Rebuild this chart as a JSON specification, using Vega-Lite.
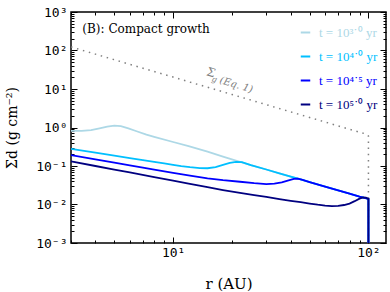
{
  "$schema": "https://vega.github.io/schema/vega-lite/v6.json",
  "width": 315,
  "height": 231,
  "autosize": {"type": "none"},
  "padding": {"left": 71, "top": 12, "right": 4, "bottom": 49},
  "config": {
    "view": {"stroke": "black", "strokeWidth": 1.5},
    "axis": {"domain": false, "grid": false, "tickColor": "black", "tickWidth": 1, "labelColor": "black", "labelFont": "DejaVu Sans Mono", "labelFontSize": 13, "titleFont": "DejaVu Serif", "titleFontWeight": "normal", "titleColor": "black", "titleFontSize": 14}
  },
  "datasets": {
    "gas": [
      {"r": 3, "s": 124, "i": 0}, {"r": 4, "s": 80.5, "i": 1}, {"r": 5, "s": 57.6, "i": 2}, {"r": 6, "s": 43.8, "i": 3},
      {"r": 8, "s": 28.5, "i": 4}, {"r": 10, "s": 20.4, "i": 5}, {"r": 13, "s": 13.7, "i": 6}, {"r": 16, "s": 10.1, "i": 7},
      {"r": 20, "s": 7.2, "i": 8}, {"r": 25, "s": 5.15, "i": 9}, {"r": 30, "s": 3.92, "i": 10}, {"r": 40, "s": 2.55, "i": 11},
      {"r": 50, "s": 1.82, "i": 12}, {"r": 60, "s": 1.39, "i": 13}, {"r": 70, "s": 1.1, "i": 14}, {"r": 80, "s": 0.9, "i": 15},
      {"r": 90, "s": 0.755, "i": 16}, {"r": 98, "s": 0.67, "i": 17}, {"r": 100, "s": 0.6, "i": 18}, {"r": 100, "s": 0.0001, "i": 19}
    ],
    "dust": [
      {"t": "t = 10³˙⁰ yr", "r": 3.0, "s": 0.82, "i": 0}, {"t": "t = 10³˙⁰ yr", "r": 3.4, "s": 0.82, "i": 1}, {"t": "t = 10³˙⁰ yr", "r": 3.8, "s": 0.86, "i": 2},
      {"t": "t = 10³˙⁰ yr", "r": 4.2, "s": 0.95, "i": 3}, {"t": "t = 10³˙⁰ yr", "r": 4.6, "s": 1.05, "i": 4}, {"t": "t = 10³˙⁰ yr", "r": 5.0, "s": 1.12, "i": 5},
      {"t": "t = 10³˙⁰ yr", "r": 5.4, "s": 1.08, "i": 6}, {"t": "t = 10³˙⁰ yr", "r": 5.9, "s": 0.95, "i": 7}, {"t": "t = 10³˙⁰ yr", "r": 6.5, "s": 0.8, "i": 8},
      {"t": "t = 10³˙⁰ yr", "r": 7.3, "s": 0.65, "i": 9}, {"t": "t = 10³˙⁰ yr", "r": 8, "s": 0.57, "i": 10}, {"t": "t = 10³˙⁰ yr", "r": 10, "s": 0.42, "i": 11},
      {"t": "t = 10³˙⁰ yr", "r": 12, "s": 0.33, "i": 12}, {"t": "t = 10³˙⁰ yr", "r": 15, "s": 0.235, "i": 13}, {"t": "t = 10³˙⁰ yr", "r": 18, "s": 0.175, "i": 14},
      {"t": "t = 10³˙⁰ yr", "r": 22, "s": 0.128, "i": 15}, {"t": "t = 10³˙⁰ yr", "r": 25, "s": 0.106, "i": 16}, {"t": "t = 10³˙⁰ yr", "r": 30, "s": 0.0811, "i": 17},
      {"t": "t = 10³˙⁰ yr", "r": 35, "s": 0.0647, "i": 18}, {"t": "t = 10³˙⁰ yr", "r": 40, "s": 0.0531, "i": 19}, {"t": "t = 10³˙⁰ yr", "r": 45, "s": 0.0447, "i": 20},
      {"t": "t = 10³˙⁰ yr", "r": 50, "s": 0.0383, "i": 21}, {"t": "t = 10³˙⁰ yr", "r": 60, "s": 0.0293, "i": 22}, {"t": "t = 10³˙⁰ yr", "r": 70, "s": 0.0234, "i": 23},
      {"t": "t = 10³˙⁰ yr", "r": 80, "s": 0.0192, "i": 24}, {"t": "t = 10³˙⁰ yr", "r": 90, "s": 0.0161, "i": 25}, {"t": "t = 10³˙⁰ yr", "r": 100, "s": 0.014, "i": 26},
      {"t": "t = 10³˙⁰ yr", "r": 100, "s": 0.0001, "i": 27},

      {"t": "t = 10⁴˙⁰ yr", "r": 3, "s": 0.28, "i": 30}, {"t": "t = 10⁴˙⁰ yr", "r": 4, "s": 0.222, "i": 31}, {"t": "t = 10⁴˙⁰ yr", "r": 5, "s": 0.186, "i": 32},
      {"t": "t = 10⁴˙⁰ yr", "r": 6, "s": 0.161, "i": 33}, {"t": "t = 10⁴˙⁰ yr", "r": 7, "s": 0.143, "i": 34}, {"t": "t = 10⁴˙⁰ yr", "r": 8, "s": 0.128, "i": 35},
      {"t": "t = 10⁴˙⁰ yr", "r": 9, "s": 0.117, "i": 36}, {"t": "t = 10⁴˙⁰ yr", "r": 10, "s": 0.107, "i": 37}, {"t": "t = 10⁴˙⁰ yr", "r": 11, "s": 0.099, "i": 38},
      {"t": "t = 10⁴˙⁰ yr", "r": 12.2, "s": 0.093, "i": 39}, {"t": "t = 10⁴˙⁰ yr", "r": 13.7, "s": 0.088, "i": 40}, {"t": "t = 10⁴˙⁰ yr", "r": 15, "s": 0.0875, "i": 41},
      {"t": "t = 10⁴˙⁰ yr", "r": 16.5, "s": 0.093, "i": 42}, {"t": "t = 10⁴˙⁰ yr", "r": 18, "s": 0.107, "i": 43}, {"t": "t = 10⁴˙⁰ yr", "r": 19.5, "s": 0.12, "i": 44},
      {"t": "t = 10⁴˙⁰ yr", "r": 21, "s": 0.128, "i": 45}, {"t": "t = 10⁴˙⁰ yr", "r": 22.5, "s": 0.126, "i": 46}, {"t": "t = 10⁴˙⁰ yr", "r": 25, "s": 0.106, "i": 47},
      {"t": "t = 10⁴˙⁰ yr", "r": 30, "s": 0.0811, "i": 48}, {"t": "t = 10⁴˙⁰ yr", "r": 35, "s": 0.0647, "i": 49}, {"t": "t = 10⁴˙⁰ yr", "r": 40, "s": 0.0531, "i": 50},
      {"t": "t = 10⁴˙⁰ yr", "r": 45, "s": 0.0447, "i": 51}, {"t": "t = 10⁴˙⁰ yr", "r": 50, "s": 0.0383, "i": 52}, {"t": "t = 10⁴˙⁰ yr", "r": 60, "s": 0.0293, "i": 53},
      {"t": "t = 10⁴˙⁰ yr", "r": 70, "s": 0.0234, "i": 54}, {"t": "t = 10⁴˙⁰ yr", "r": 80, "s": 0.0192, "i": 55}, {"t": "t = 10⁴˙⁰ yr", "r": 90, "s": 0.0161, "i": 56},
      {"t": "t = 10⁴˙⁰ yr", "r": 100, "s": 0.014, "i": 57}, {"t": "t = 10⁴˙⁰ yr", "r": 100, "s": 0.0001, "i": 58},

      {"t": "t = 10⁴˙⁵ yr", "r": 3, "s": 0.192, "i": 60}, {"t": "t = 10⁴˙⁵ yr", "r": 4, "s": 0.149, "i": 61}, {"t": "t = 10⁴˙⁵ yr", "r": 5, "s": 0.122, "i": 62},
      {"t": "t = 10⁴˙⁵ yr", "r": 6, "s": 0.104, "i": 63}, {"t": "t = 10⁴˙⁵ yr", "r": 7, "s": 0.0905, "i": 64}, {"t": "t = 10⁴˙⁵ yr", "r": 8, "s": 0.0803, "i": 65},
      {"t": "t = 10⁴˙⁵ yr", "r": 10, "s": 0.0659, "i": 66}, {"t": "t = 10⁴˙⁵ yr", "r": 12.2, "s": 0.056, "i": 67}, {"t": "t = 10⁴˙⁵ yr", "r": 15, "s": 0.048, "i": 68},
      {"t": "t = 10⁴˙⁵ yr", "r": 18, "s": 0.043, "i": 69}, {"t": "t = 10⁴˙⁵ yr", "r": 22, "s": 0.039, "i": 70}, {"t": "t = 10⁴˙⁵ yr", "r": 26, "s": 0.0357, "i": 71},
      {"t": "t = 10⁴˙⁵ yr", "r": 30, "s": 0.034, "i": 72}, {"t": "t = 10⁴˙⁵ yr", "r": 33, "s": 0.0348, "i": 73}, {"t": "t = 10⁴˙⁵ yr", "r": 36, "s": 0.0375, "i": 74},
      {"t": "t = 10⁴˙⁵ yr", "r": 39, "s": 0.0425, "i": 75}, {"t": "t = 10⁴˙⁵ yr", "r": 41.5, "s": 0.0463, "i": 76}, {"t": "t = 10⁴˙⁵ yr", "r": 43.5, "s": 0.0472, "i": 77},
      {"t": "t = 10⁴˙⁵ yr", "r": 46, "s": 0.0435, "i": 78}, {"t": "t = 10⁴˙⁵ yr", "r": 50, "s": 0.0383, "i": 79}, {"t": "t = 10⁴˙⁵ yr", "r": 60, "s": 0.0293, "i": 80},
      {"t": "t = 10⁴˙⁵ yr", "r": 70, "s": 0.0234, "i": 81}, {"t": "t = 10⁴˙⁵ yr", "r": 80, "s": 0.0192, "i": 82}, {"t": "t = 10⁴˙⁵ yr", "r": 90, "s": 0.0161, "i": 83},
      {"t": "t = 10⁴˙⁵ yr", "r": 100, "s": 0.014, "i": 84}, {"t": "t = 10⁴˙⁵ yr", "r": 100, "s": 0.0001, "i": 85},

      {"t": "t = 10⁵˙⁰ yr", "r": 3, "s": 0.132, "i": 90}, {"t": "t = 10⁵˙⁰ yr", "r": 4, "s": 0.1, "i": 91}, {"t": "t = 10⁵˙⁰ yr", "r": 5, "s": 0.0808, "i": 92},
      {"t": "t = 10⁵˙⁰ yr", "r": 6, "s": 0.0679, "i": 93}, {"t": "t = 10⁵˙⁰ yr", "r": 8, "s": 0.0515, "i": 94}, {"t": "t = 10⁵˙⁰ yr", "r": 10, "s": 0.0416, "i": 95},
      {"t": "t = 10⁵˙⁰ yr", "r": 12, "s": 0.0348, "i": 96}, {"t": "t = 10⁵˙⁰ yr", "r": 15, "s": 0.0281, "i": 97}, {"t": "t = 10⁵˙⁰ yr", "r": 18, "s": 0.0237, "i": 98},
      {"t": "t = 10⁵˙⁰ yr", "r": 22, "s": 0.0201, "i": 99}, {"t": "t = 10⁵˙⁰ yr", "r": 26, "s": 0.0176, "i": 100}, {"t": "t = 10⁵˙⁰ yr", "r": 30, "s": 0.0157, "i": 101},
      {"t": "t = 10⁵˙⁰ yr", "r": 35, "s": 0.0138, "i": 102}, {"t": "t = 10⁵˙⁰ yr", "r": 40, "s": 0.0125, "i": 103}, {"t": "t = 10⁵˙⁰ yr", "r": 45, "s": 0.0115, "i": 104},
      {"t": "t = 10⁵˙⁰ yr", "r": 50, "s": 0.0106, "i": 105}, {"t": "t = 10⁵˙⁰ yr", "r": 55, "s": 0.0099, "i": 106}, {"t": "t = 10⁵˙⁰ yr", "r": 60, "s": 0.0094, "i": 107},
      {"t": "t = 10⁵˙⁰ yr", "r": 65, "s": 0.0091, "i": 108}, {"t": "t = 10⁵˙⁰ yr", "r": 70, "s": 0.0092, "i": 109}, {"t": "t = 10⁵˙⁰ yr", "r": 75, "s": 0.0097, "i": 110},
      {"t": "t = 10⁵˙⁰ yr", "r": 80, "s": 0.0106, "i": 111}, {"t": "t = 10⁵˙⁰ yr", "r": 85, "s": 0.0122, "i": 112}, {"t": "t = 10⁵˙⁰ yr", "r": 90, "s": 0.0142, "i": 113},
      {"t": "t = 10⁵˙⁰ yr", "r": 94, "s": 0.0153, "i": 114}, {"t": "t = 10⁵˙⁰ yr", "r": 97, "s": 0.015, "i": 115}, {"t": "t = 10⁵˙⁰ yr", "r": 100, "s": 0.014, "i": 116},
      {"t": "t = 10⁵˙⁰ yr", "r": 100, "s": 0.0001, "i": 117}
    ]
  },
  "layer": [
    {
      "data": {"name": "gas"},
      "mark": {"type": "line", "color": "#808080", "strokeWidth": 1.5, "strokeDash": [1.5, 4.7], "clip": true},
      "encoding": {
        "x": {"field": "r", "type": "quantitative", "scale": {"type": "log", "domain": [3, 123], "nice": false},
          "axis": {"orient": "bottom", "values": [10, 100], "tickSize": -6, "labelPadding": 9, "labelExpr": "'10' + ['⁰','¹','²','³'][round(log(datum.value)/LN10)]", "title": "r (AU)", "titlePadding": 17, "titleFontSize": 15}},
        "y": {"field": "s", "type": "quantitative", "scale": {"type": "log", "domain": [0.001, 1000], "nice": false},
          "axis": {"orient": "left", "values": [0.001, 0.01, 0.1, 1, 10, 100, 1000], "tickSize": -6, "labelPadding": 10, "labelExpr": "'10' + (datum.value < 0.99 ? '⁻' : '') + ['⁰','¹','²','³'][abs(round(log(datum.value)/LN10))]", "title": "Σd (g cm⁻²)", "titlePadding": 16}},
        "order": {"field": "i", "type": "quantitative"}
      }
    },
    {
      "data": {"name": "dust"},
      "mark": {"type": "line", "strokeWidth": 1.8, "clip": true},
      "encoding": {
        "x": {"field": "r", "type": "quantitative", "scale": {"type": "log", "domain": [3, 123], "nice": false},
          "axis": {"orient": "bottom", "values": [3, 4, 5, 6, 7, 8, 9, 20, 30, 40, 50, 60, 70, 80, 90], "tickSize": -3, "labels": false, "title": null}},
        "y": {"field": "s", "type": "quantitative", "scale": {"type": "log", "domain": [0.001, 1000], "nice": false},
          "axis": {"orient": "left", "values": [0.002, 0.003, 0.004, 0.005, 0.006, 0.007, 0.008, 0.009, 0.02, 0.03, 0.04, 0.05, 0.06, 0.07, 0.08, 0.09, 0.2, 0.3, 0.4, 0.5, 0.6, 0.7, 0.8, 0.9, 2, 3, 4, 5, 6, 7, 8, 9, 20, 30, 40, 50, 60, 70, 80, 90, 200, 300, 400, 500, 600, 700, 800, 900], "tickSize": -3, "labels": false, "title": null}},
        "color": {"field": "t", "type": "nominal",
          "scale": {"domain": ["t = 10³˙⁰ yr", "t = 10⁴˙⁰ yr", "t = 10⁴˙⁵ yr", "t = 10⁵˙⁰ yr"], "range": ["#add8e6", "#00bfff", "#0000ff", "#000080"]},
          "legend": {"title": null, "orient": "none", "legendX": 228, "legendY": 14, "padding": 0, "symbolType": "stroke", "symbolStrokeWidth": 2, "symbolSize": 90, "labelFont": "Liberation Serif", "labelFontSize": 13, "rowPadding": 10, "labelOffset": 7,
            "encode": {"labels": {"update": {"fill": {"scale": "color", "field": "value"}}}}}},
        "order": {"field": "i", "type": "quantitative"}
      }
    },
    {
      "data": {"values": [{}]},
      "mark": {"type": "text", "font": "DejaVu Serif", "fontSize": 12, "align": "left", "baseline": "middle", "color": "black", "text": "(B): Compact growth"},
      "encoding": {
        "x": {"datum": 3.43, "type": "quantitative", "scale": {"type": "log", "domain": [3, 123], "nice": false},
          "axis": {"orient": "top", "values": [10, 100], "tickSize": -6, "labels": false, "title": null}},
        "y": {"datum": 370, "type": "quantitative", "scale": {"type": "log", "domain": [0.001, 1000], "nice": false},
          "axis": {"orient": "right", "values": [0.001, 0.01, 0.1, 1, 10, 100, 1000], "tickSize": -6, "labels": false, "title": null}}
      }
    },
    {
      "data": {"values": [{}]},
      "mark": {"type": "text", "font": "DejaVu Serif", "fontSize": 12, "align": "left", "baseline": "middle", "color": "#808080", "angle": 17, "text": "Σ"},
      "encoding": {
        "x": {"datum": 14.9, "type": "quantitative", "scale": {"type": "log", "domain": [3, 123], "nice": false},
          "axis": {"orient": "top", "values": [3, 4, 5, 6, 7, 8, 9, 20, 30, 40, 50, 60, 70, 80, 90], "tickSize": -3, "labels": false, "title": null}},
        "y": {"datum": 29, "type": "quantitative", "scale": {"type": "log", "domain": [0.001, 1000], "nice": false},
          "axis": {"orient": "right", "values": [0.002, 0.003, 0.004, 0.005, 0.006, 0.007, 0.008, 0.009, 0.02, 0.03, 0.04, 0.05, 0.06, 0.07, 0.08, 0.09, 0.2, 0.3, 0.4, 0.5, 0.6, 0.7, 0.8, 0.9, 2, 3, 4, 5, 6, 7, 8, 9, 20, 30, 40, 50, 60, 70, 80, 90, 200, 300, 400, 500, 600, 700, 800, 900], "tickSize": -3, "labels": false, "title": null}}
      }
    },
    {
      "data": {"values": [{}]},
      "mark": {"type": "text", "font": "DejaVu Serif", "fontSize": 8, "fontStyle": "italic", "align": "left", "baseline": "middle", "color": "#808080", "angle": 17, "text": "g", "dx": 7, "dy": 6},
      "encoding": {
        "x": {"datum": 14.9, "type": "quantitative", "scale": {"type": "log", "domain": [3, 123], "nice": false}, "axis": null},
        "y": {"datum": 29, "type": "quantitative", "scale": {"type": "log", "domain": [0.001, 1000], "nice": false}, "axis": null}
      }
    },
    {
      "data": {"values": [{}]},
      "mark": {"type": "text", "font": "DejaVu Serif", "fontSize": 10, "fontStyle": "italic", "align": "left", "baseline": "middle", "color": "#808080", "angle": 17, "text": "(Eq. 1)", "dx": 15, "dy": 4.6},
      "encoding": {
        "x": {"datum": 14.9, "type": "quantitative", "scale": {"type": "log", "domain": [3, 123], "nice": false}, "axis": null},
        "y": {"datum": 29, "type": "quantitative", "scale": {"type": "log", "domain": [0.001, 1000], "nice": false}, "axis": null}
      }
    }
  ],
  "resolve": {"axis": {"x": "independent", "y": "independent"}}
}
